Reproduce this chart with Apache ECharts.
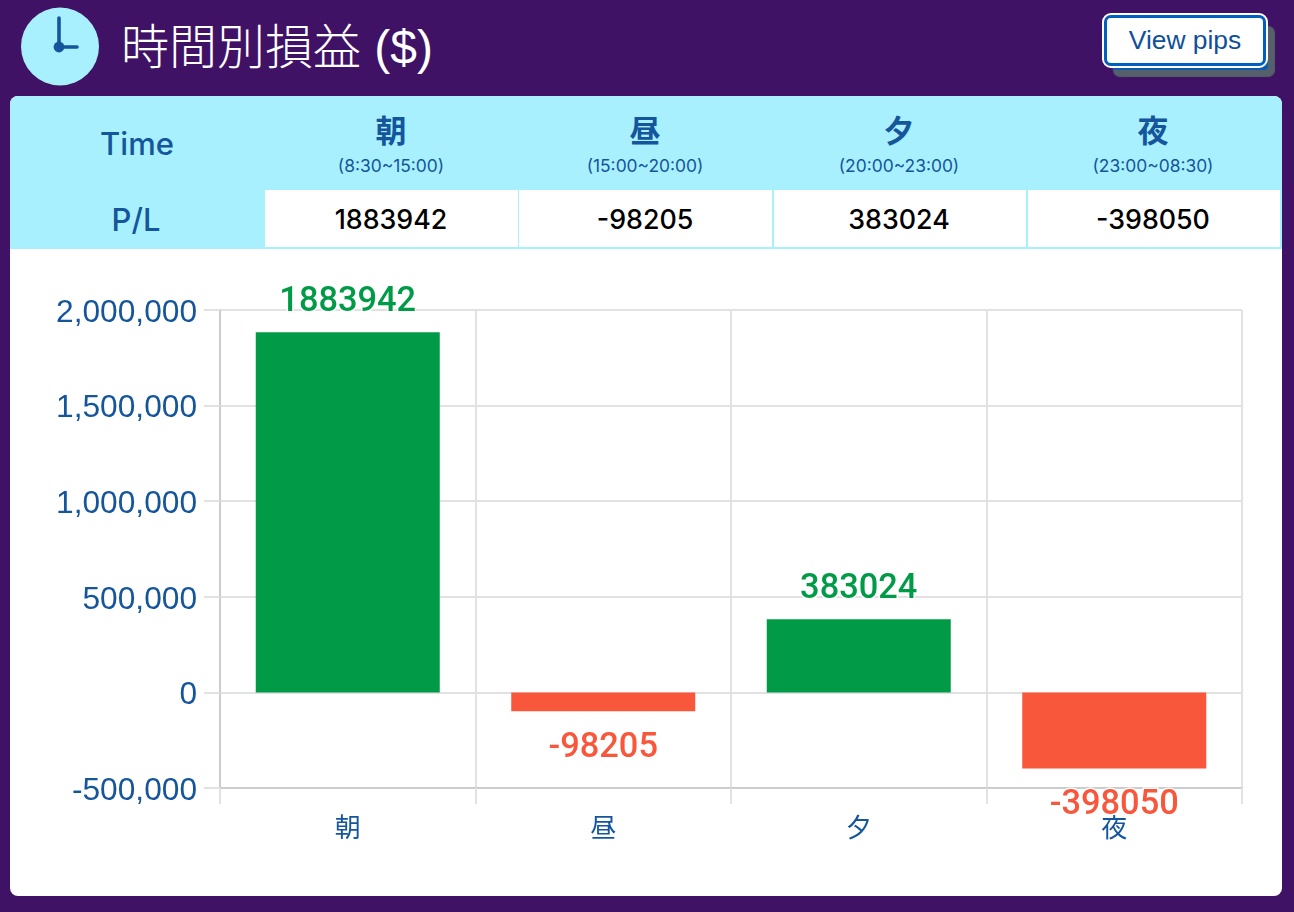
<!DOCTYPE html>
<html><head><meta charset="utf-8">
<script src="https://cdn.jsdelivr.net/npm/echarts@6/dist/echarts.min.js"></script>
<style>
html,body{margin:0;padding:0;width:1294px;height:912px;overflow:hidden;background:#3f1265}
.t{position:absolute;transform:translate(-50%,-50%);white-space:nowrap;line-height:1}
.box{position:absolute}
#panel{left:10px;top:96px;width:1272px;height:800px;background:#fff;border-radius:8px;overflow:hidden}
#title{position:absolute;left:121px;top:22px;font:48px/52px "Liberation Sans","Noto Sans CJK JP",sans-serif;font-weight:300;color:#fff;white-space:nowrap}
#btn{position:absolute;left:1104px;top:15px;width:156px;height:45px;border:3px solid #0060c0;border-radius:7px;background:#fff;outline:2px solid #fff;outline-offset:0;box-shadow:5px 7px 0 -3px #0a5ab0,9px 11px 1px 0 #56606b;color:#0f4f99;font:26.4px/45px "Liberation Sans",sans-serif;text-align:center}
#chart{position:absolute;left:10px;top:249px;width:1272px;height:647px}
</style></head><body>
<svg class="box" style="left:20px;top:7px" width="80" height="80" viewBox="0 0 80 80">
<circle cx="40" cy="39.5" r="39" fill="#a8f0fd"/>
<path d="M39 11V40H57" fill="none" stroke="#14559c" stroke-width="3.6" stroke-linecap="round"/>
<circle cx="39" cy="40" r="5.4" fill="#14559c"/>
</svg>
<div id="title">時間別損益 ($)</div>
<div id="btn">View pips</div>
<div id="panel" class="box"></div>
<div id="chart"></div>
<script>
const categories = ['朝', '昼', '夕', '夜'];
const timeRanges = ['(8:30~15:00)', '(15:00~20:00)', '(20:00~23:00)', '(23:00~08:30)'];
const plValues = [1883942, -98205, 383024, -398050];
const yMin = -500000, yMax = 2000000, yStep = 500000;

const BLUE = '#14559c', CYAN = '#a8f0fd', GREEN = '#019b48', RED = '#f8573b';
const UI = 'Inter,"Noto Sans CJK JP",sans-serif';
const panel = document.getElementById('panel');
function div(css, text) {
  const d = document.createElement('div');
  d.style.cssText = css;
  if (text !== undefined) d.textContent = text;
  panel.appendChild(d);
  return d;
}
div('position:absolute;left:0;top:0;width:1272px;height:153px;background:' + CYAN);
function label(x, y, size, text, color, weight, fam) {
  const d = div('left:' + x + 'px;top:' + y + 'px;font-size:' + size + 'px;color:' + color + ';font-weight:' + (weight || 400) + ';font-family:' + (fam || UI), text);
  d.className = 't';
}
label(127, 47, 31, 'Time', BLUE, 500);
label(126, 123, 31, 'P/L', BLUE, 500);
const colLeft = [255, 509, 764, 1018], colWidth = [253, 253, 252, 252], colCenter = [381, 635, 889, 1143];
categories.forEach((c, i) => {
  div('position:absolute;left:' + colLeft[i] + 'px;top:94px;width:' + colWidth[i] + 'px;height:57px;background:#fff');
  label(colCenter[i], 34, 31, c, BLUE, 700);
  label(colCenter[i], 70, 17.4, timeRanges[i], BLUE);
  label(colCenter[i], 123, 26.8, String(plValues[i]), '#000', 500);
});

const chart = echarts.init(document.getElementById('chart'), null, {renderer: 'canvas'});
chart.setOption({
  animation: false,
  grid: {left: 210, right: 40, top: 61, bottom: 108},
  xAxis: {
    type: 'category', data: categories, position: 'bottom',
    axisLine: {onZero: false, lineStyle: {color: '#cccccc', width: 2}},
    axisTick: {show: true, length: 16, alignWithLabel: false, lineStyle: {color: '#e2e2e2', width: 2}},
    splitLine: {show: true, lineStyle: {color: '#e2e2e2', width: 2}},
    axisLabel: {color: BLUE, fontSize: 26, margin: 29, fontFamily: '"Liberation Sans","Noto Sans CJK JP",sans-serif'}
  },
  yAxis: {
    type: 'value', min: yMin, max: yMax, interval: yStep,
    axisLine: {show: true, lineStyle: {color: '#cccccc', width: 2}},
    axisTick: {show: true, length: 16, lineStyle: {color: '#e2e2e2', width: 2}},
    splitLine: {show: true, lineStyle: {color: '#e2e2e2', width: 2}},
    axisLabel: {margin: 23,
      formatter: v => '{a|' + v.toLocaleString('en-US') + '}',
      rich: {a: {color: BLUE, fontSize: 31.7, padding: [6, 0, 0, 0], fontFamily: '"Liberation Sans",sans-serif'}}}
  },
  series: [{
    type: 'bar', barWidth: 184,
    data: plValues.map(v => ({
      value: v,
      itemStyle: {color: v >= 0 ? GREEN : RED},
      label: {
        show: true, position: v >= 0 ? 'top' : 'bottom', distance: v >= 0 ? 13 : 20,
        color: v >= 0 ? GREEN : RED, fontSize: 34.4, fontWeight: 500,
        fontFamily: 'Roboto,"Liberation Sans",sans-serif',
        textBorderColor: '#fff', textBorderWidth: 3,
        formatter: String(v)
      }
    }))
  }]
});
</script>
</body></html>
